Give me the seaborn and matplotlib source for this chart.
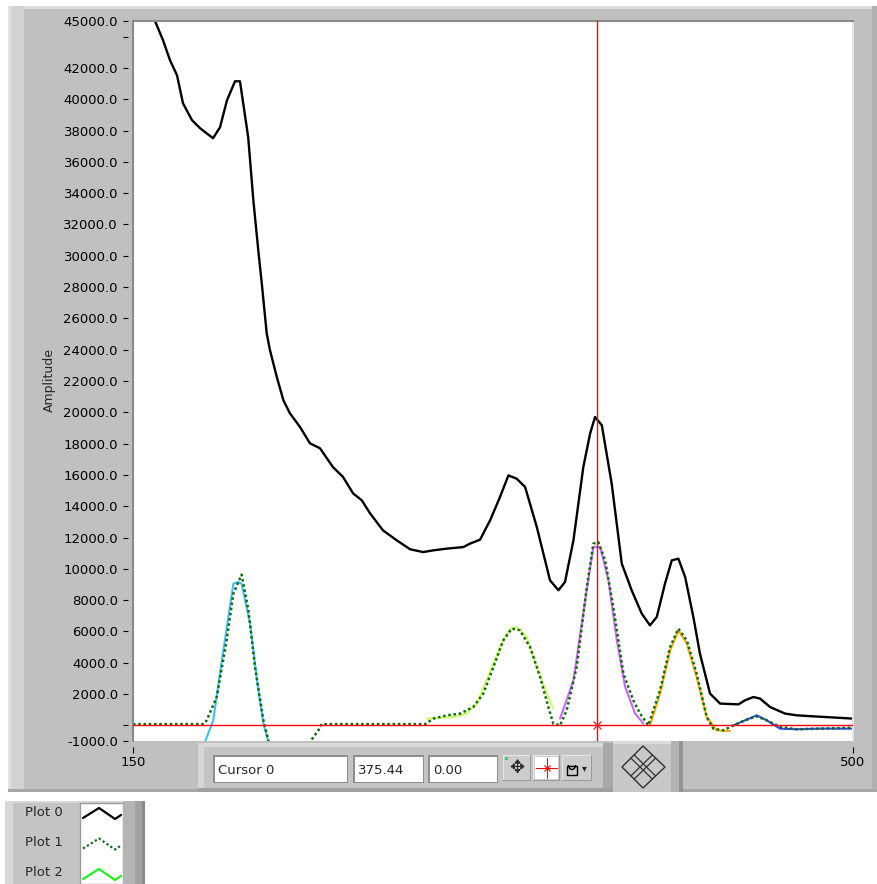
import numpy as np
import pandas as pd
import seaborn as sns
import matplotlib.pyplot as plt
from matplotlib.patches import Rectangle, Polygon, Arc
from matplotlib.lines import Line2D


# Data

plot0_x = [150, 157, 160.7, 164.6, 168, 171.4, 174.3, 178.7, 182.6, 188.9, 192.3, 195.7, 199.6, 202,
           206, 208.5, 210.9, 212.6, 215, 216.6, 219.9, 223.1, 226.3, 231.2, 236, 240.9, 247.2, 252.1,
           257, 261.2, 265.2, 271.5, 278.2, 284.7, 291, 296, 302.5, 310.6, 313.8, 318.7, 323.6, 328.4,
           332.5, 336.5, 340.6, 346.3, 352.7, 356.8, 360, 364.1, 368.9, 372.2, 374.6, 377.9, 382.7,
           387.6, 392.4, 397.3, 401.3, 404.6, 408.6, 411.9, 415.1, 418.4, 422.4, 425.6, 430.5, 435.4,
           444.3, 447.5, 451.6, 454.8, 459.7, 467, 472.7, 480.7, 492.1, 500]
plot0_y = [48400, 46200, 45000, 43770, 42490, 41530, 39740, 38660, 38150, 37510, 38210, 39940, 41150, 41150,
           37570, 33550, 30350, 28240, 25040, 23960, 22260, 20770, 19930, 19060, 18020, 17700, 16500, 15870,
           14820, 14380, 13550, 12460, 11820, 11250, 11070, 11180, 11290, 11390, 11610, 11860, 13100, 14590,
           15970, 15760, 15230, 12670, 9270, 8630, 9160, 11820, 16500, 18640, 19700, 19170, 15440,
           10330, 8630, 7140, 6390, 6920, 9050, 10540, 10650, 9480, 6920, 4580, 2030, 1390,
           1340, 1600, 1810, 1710, 1170, 750, 640, 575, 490, 430]

# Plot 1 - total fit (dotted)
fit_x = [150, 184.5, 185.8, 190.7, 195.5, 198.8, 202.8, 206.1, 209.3, 213.4, 215.8, 218.5, 233, 236, 240.1,
         241.7, 292, 296, 302.5, 309, 315.4, 320.3, 325.2, 330, 334.1, 338.1, 343, 347.9, 351.9, 354.3,
         357.6, 360.8, 365.7, 370.6, 373.8, 376.2, 379.5, 383.5, 388.4, 393.2, 396.5, 400.5, 406.2, 411.1,
         415.1, 419.2, 424, 428.9, 432.1, 437, 441.9, 447.5, 453.2, 458.1, 464.5, 472.6, 484, 500]
fit_y = [80, 80, 320, 1810, 5430, 8420, 9630, 7350, 3730, 320, -960, -2400, -2400, -1060, -320,
         80, 80, 430, 640, 750, 1170, 2030, 3730, 5430, 6180, 6070, 5000, 3090, 1170, 110,
         0, 960, 3730, 8840, 11610, 11710, 10540, 7560, 3300, 1600, 750, 0, 2240, 5000,
         6180, 5430, 3300, 530, -210, -320, 0, 320, 575, 320, -100, -250, -210, -150]

# single peaks
peak_a_x = [183.5, 185, 189, 193.9, 198.8, 201.2, 202.8, 206.9, 210.9, 213.4, 215.8, 217]
peak_a_y = [-1800, -1060, 320, 4790, 9050, 9160, 9050, 6500, 2240, 110, -1060, -1700]

peak_b_x = [292.8, 305.7, 312.2, 317.1, 321.9, 328.4, 333.3, 336.5, 341.4, 346.3, 351.1, 354.3]
peak_b_y = [430, 530, 750, 1390, 2880, 5000, 6180, 6280, 5640, 3730, 2030, 1070]

peak_c_x = [357.6, 364.1, 369.8, 373.8, 377.1, 381.1, 385.2, 389.2, 394.1, 398.1]
peak_c_y = [430, 2880, 7990, 11390, 11390, 9270, 5430, 2450, 750, 110]

peak_d_x = [401.3, 406.2, 411.1, 415.1, 419.2, 424, 428.9, 433.7, 440.2]
peak_d_y = [0, 2030, 4790, 6070, 5220, 3090, 530, -320, -360]

peak_e_x = [441.9, 447.5, 453.2, 458.1, 464.5, 472.6, 484, 500]
peak_e_y = [0, 320, 640, 320, -210, -250, -210, -210]

cursor_name = "Cursor 0"
cursor_x = 375.44
cursor_y = 0.00

y_ticks = [45000, 44000] + list(range(42000, 0, -2000)) + [0, -1000]
y_labels = ["45000.0", ""] + ["%.1f" % v for v in range(42000, 0, -2000)] + ["", "-1000.0"]
x_ticks = [150, 500]
x_labels = ["150", "500"]

legend_names = ["Plot 0", "Plot 1", "Plot 2"]


W, H = 877, 884
GREEN = "#0b6b0b"

sns.set_style("white")
plt.rcParams['font.family'] = ['DejaVu Sans']

fig = plt.figure(figsize=(W / 100, H / 100), dpi=100)
fig.patch.set_facecolor("white")


def rect(a, x0, y0, x1, y1, fc, ec="none", lw=0):
    a.add_patch(Rectangle((x0, y0), x1 - x0, y1 - y0, facecolor=fc, edgecolor=ec, lw=lw))


# graph frame (behind the plot)
bg = fig.add_axes([0, 0, 1, 1], zorder=-1)
bg.set_xlim(0, W)
bg.set_ylim(H, 0)
bg.axis("off")
rect(bg, 8, 6, 877, 792, "#c0c0c0")
rect(bg, 8, 6, 877, 9, "#dcdcdc")
rect(bg, 8, 6, 24, 792, "#d2d2d2")
rect(bg, 8, 6, 11, 792, "#e0e0e0")
rect(bg, 872, 6, 877, 792, "#b0b0b0")
rect(bg, 8, 789, 877, 792, "#a6a6a6")


# plot area
ax = fig.add_axes([133 / W, (H - 741) / H, 720 / W, 720 / H])
ax.set_facecolor("white")

peaks = [(peak_a_x, peak_a_y, "#40c0f0"), (peak_b_x, peak_b_y, "#ccff66"),
         (peak_c_x, peak_c_y, "#cc66ff"), (peak_d_x, peak_d_y, "#ffaa00"),
         (peak_e_x, peak_e_y, "#3344ff")]
for px, py, col in peaks:
    d = pd.DataFrame({"x": px, "y": py})
    sns.lineplot(data=d, x="x", y="y", ax=ax, color=col, lw=1.5, sort=False, estimator=None)

df0 = pd.DataFrame({"x": plot0_x, "y": plot0_y})
sns.lineplot(data=df0, x="x", y="y", ax=ax, color="black", lw=1.7, sort=False, estimator=None)

df1 = pd.DataFrame({"x": fit_x, "y": fit_y})
sns.lineplot(data=df1, x="x", y="y", ax=ax, color=GREEN, lw=1.8, linestyle=(0, (1, 1.1)),
             sort=False, estimator=None)

# cursor
ax.axhline(cursor_y, color="#ff0000", lw=1.0, zorder=4, snap=True)
ax.axvline(cursor_x, color="#ff0000", lw=1.0, zorder=4, snap=True)
ax.plot([cursor_x], [cursor_y], marker="x", ms=6, mew=0.9, color="#ff2020", zorder=5)

ax.set_xlim(150, 500)
ax.set_ylim(-1000, 45000)
ax.set_xticks(x_ticks)
ax.set_xticklabels(x_labels)
ax.set_yticks(y_ticks)
ax.set_yticklabels(y_labels)
ax.set_xlabel("")
ax.set_ylabel("Amplitude", fontsize=9, va="center")
ax.yaxis.set_label_coords((49 - 133) / 720, (741 - 380) / 720)

ax.spines["right"].set_visible(False)
ax.spines["top"].set_color("#8a8a8a")
ax.spines["top"].set_linewidth(1.5)
ax.spines["left"].set_position(("outward", 3.6))
ax.spines["left"].set_color("none")
ax.spines["bottom"].set_position(("outward", 4.3))
ax.spines["bottom"].set_color("none")
ax.add_line(Line2D([0, 0], [0, 1], transform=ax.transAxes, color="#8a8a8a", lw=1.5, clip_on=False))
ax.add_line(Line2D([1, 1], [0, 1], transform=ax.transAxes, color="#e4e4e4", lw=1.5, clip_on=False))

ax.tick_params(axis="y", left=True, direction="out", length=3.6, width=0.8, pad=3.6,
               labelsize=9.5, color="black", labelcolor="black")
ax.tick_params(axis="x", bottom=True, direction="out", length=4.3, width=0.8, pad=2.5,
               labelsize=9.5, color="black", labelcolor="black")


# cursor panel, buttons and legend (in front)
fg = fig.add_axes([0, 0, 1, 1], zorder=3)
fg.set_xlim(0, W)
fg.set_ylim(H, 0)
fg.axis("off")
fg.patch.set_visible(False)

rect(fg, 198, 743, 605, 791, "#c4c4c4")
rect(fg, 198, 743, 605, 747, "#dadada")
rect(fg, 198, 743, 204, 791, "#d6d6d6")
rect(fg, 603, 743, 613, 791, "#a8a8a8")
rect(fg, 198, 788, 613, 792, "#a0a0a0")

boxes = [(215, 347, cursor_name), (355, 423, "%.2f" % cursor_x), (430, 497, "%.2f" % cursor_y)]
for x0, x1, s in boxes:
    rect(fg, x0 - 2, 755, x1 + 1, 783, "#8e8e8e")
    rect(fg, x0, 757, x1, 782, "white")
    fg.text(x0 + 3, 770, s, fontsize=9.5, va="center", ha="left")

for x0, x1 in [(503, 531), (533, 560), (562, 592)]:
    rect(fg, x0, 755, x1, 781, "#9a9a9a")
    rect(fg, x0, 755, x1 - 1, 780, "#e6e6e6")
    rect(fg, x0 + 1, 756, x1 - 1, 780, "#cdcdcd")

fg.text(517, 768, "\u2725", fontsize=13, ha="center", va="center")
rect(fg, 505, 757, 508, 760, "#33dd33")

rect(fg, 535, 757, 558, 779, "white")
fg.add_line(Line2D([536, 557], [768, 768], color="red", lw=0.8))
fg.add_line(Line2D([546.5, 546.5], [758, 778], color="red", lw=0.8))
fg.plot([546.5], [768], marker="x", ms=5, mew=0.8, color="red")

rect(fg, 567, 766, 577, 775, "none", ec="black", lw=1)
fg.add_patch(Arc((572, 765), 7, 9, theta1=0, theta2=180, color="black", lw=1))
fg.text(584, 768, "\u25be", fontsize=7, ha="center", va="center")

# diamond button
rect(fg, 613, 741, 683, 792, "#c8c8c8")
rect(fg, 613, 741, 683, 744, "#dcdcdc")
rect(fg, 671, 741, 683, 792, "#b2b2b2")
rect(fg, 679, 741, 683, 792, "#949494")
fg.add_patch(Polygon([(622, 767), (643, 746), (665, 767), (643, 788)], closed=True,
                     facecolor="none", edgecolor="#303030", lw=1))
for o in (-1.6, 1.6):
    fg.add_line(Line2D([632.5 + o, 654 + o], [756.5 - o, 777.5 - o], color="#303030", lw=0.9))
    fg.add_line(Line2D([654 - o, 632.5 - o], [756.5 - o, 777.5 - o], color="#303030", lw=0.9))

# legend
rect(fg, 5, 801, 145, 884, "#c4c4c4")
rect(fg, 5, 801, 13, 884, "#d8d8d8")
rect(fg, 5, 801, 145, 803, "#d8d8d8")
rect(fg, 80, 803, 123, 884, "white", ec="#9a9a9a", lw=1)
rect(fg, 123, 801, 145, 884, "#b4b4b4")
rect(fg, 135, 801, 145, 884, "#a2a2a2")
rect(fg, 142, 801, 145, 884, "#8a8a8a")

legend_styles = [dict(color="black", lw=1.6),
                 dict(color=GREEN, lw=1.6, linestyle=(0, (1, 1.1))),
                 dict(color="#22ee22", lw=1.6)]
for i, (name, st) in enumerate(zip(legend_names, legend_styles)):
    yc = 812 + i * 30.5
    fg.text(25, yc, name, fontsize=9.5, va="center", ha="left")
    fg.add_line(Line2D([83, 99, 115, 121], [yc + 6, yc - 4, yc + 7, yc + 3], **st))

fig.savefig("out.png", dpi=100)
